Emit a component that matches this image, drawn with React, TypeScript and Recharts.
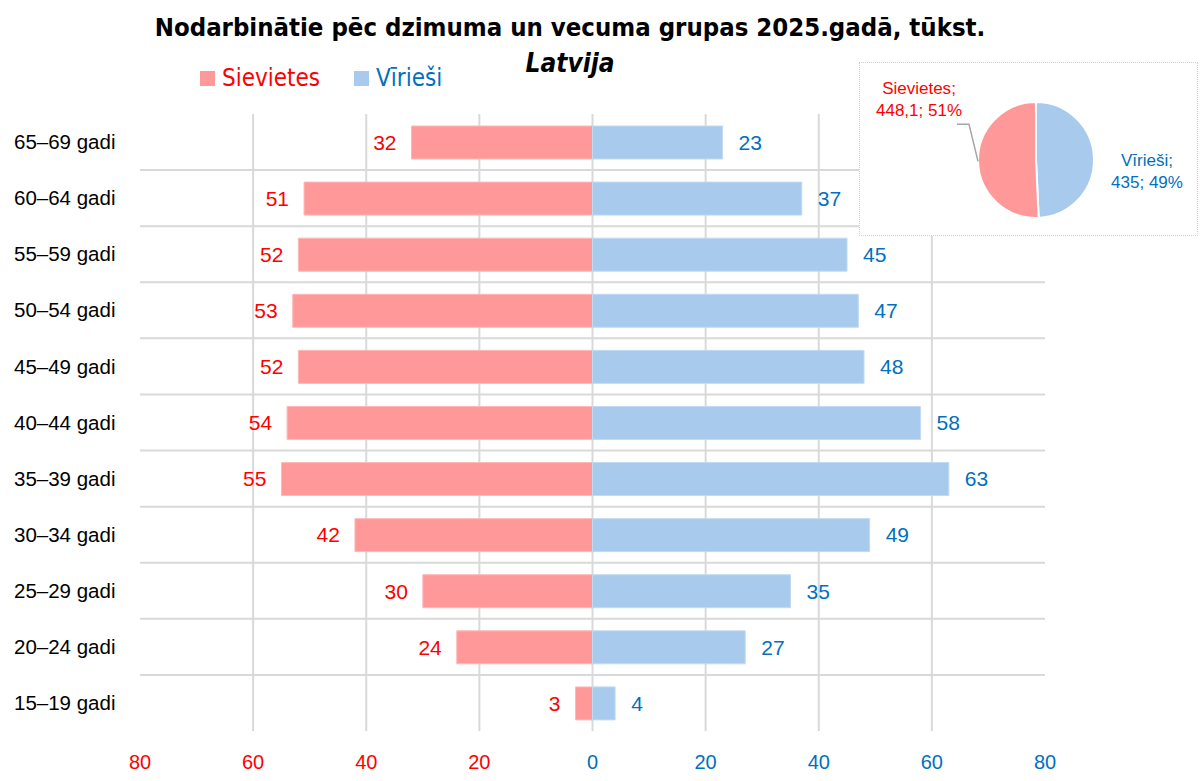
import {
  BarChart, Bar, XAxis, YAxis, CartesianGrid, LabelList, PieChart, Pie, Cell,
} from "recharts";

// employed persons by sex and age group, thousands
const ageGroups = [
  "65–69 gadi", "60–64 gadi", "55–59 gadi", "50–54 gadi", "45–49 gadi", "40–44 gadi",
  "35–39 gadi", "30–34 gadi", "25–29 gadi", "20–24 gadi", "15–19 gadi",
];
const women = [32, 51, 52, 53, 52, 54, 55, 42, 30, 24, 3];
const men = [23, 37, 45, 47, 48, 58, 63, 49, 35, 27, 4];

const xDomain: [number, number] = [-80, 80];
const xTicks = [-80, -60, -40, -20, 0, 20, 40, 60, 80];
const gridTicks = [-60, -40, -20, 0, 20, 40, 60];

const totalWomen = 448.1;
const totalMen = 435;

const RED = "#FF0000";
const BLUE = "#0070C0";
const PINK = "#FF9999";
const SKY = "#A8CAEC";
const FONT = "'Liberation Sans', Arial, sans-serif";
const NARROW = "'Liberation Sans Narrow', 'DejaVu Sans Condensed', 'Liberation Sans', sans-serif";

const rows = ageGroups.map((group, i) => ({ group, women: -women[i], men: men[i] }));
const totals = [
  { name: "Vīrieši", value: totalMen, color: SKY, text: BLUE },
  { name: "Sievietes", value: totalWomen, color: PINK, text: RED },
];

// vertical lines at the inner ticks only, horizontal lines between the age bands
const verticalLines = ({ offset }: any) =>
  gridTicks.map((v) => offset.left + ((v - xDomain[0]) / (xDomain[1] - xDomain[0])) * offset.width);
const horizontalLines = ({ offset }: any) =>
  ageGroups.slice(1).map((_, i) => offset.top + ((i + 1) * offset.height) / ageGroups.length);

function XTick({ x, y, payload }: any) {
  const v = payload.value as number;
  return (
    <text x={x} y={y} dy={30} textAnchor="middle" fill={v < 0 ? RED : BLUE} fontSize={20} fontFamily={FONT}>
      {Math.abs(v)}
    </text>
  );
}

function YTick({ y, payload }: any) {
  return (
    <text x={14} y={y} dy="0.35em" textAnchor="start" fill="#000" fontSize={20.5} fontFamily={FONT}>
      {payload.value}
    </text>
  );
}

function WomenLabel({ x, y, width, height, value }: any) {
  const left = Math.min(x, x + width);
  return (
    <text x={left - 15} y={y + height / 2} dy="0.35em" textAnchor="end" fill={RED} fontSize={21} fontFamily={FONT}>
      {Math.abs(Number(value))}
    </text>
  );
}

function MenLabel({ x, y, width, height, value }: any) {
  const right = Math.max(x, x + width);
  return (
    <text x={right + 16} y={y + height / 2} dy="0.35em" textAnchor="start" fill={BLUE} fontSize={21} fontFamily={FONT}>
      {value}
    </text>
  );
}

function fmt(v: number) {
  return String(v).replace(".", ",");
}

function PieLabel({ cx, cy, midAngle, outerRadius, name, value, percent, index }: any) {
  const item = totals[index];
  const pct = Math.round(percent * 100) + "%";
  if (name === "Vīrieši") {
    const lx = cx + outerRadius + 53;
    return (
      <text x={lx} y={cy + 6} textAnchor="middle" fill={item.text} fontSize={17} fontFamily={FONT}>
        <tspan x={lx} dy={0}>{name};</tspan>
        <tspan x={lx} dy={22}>{fmt(value)}; {pct}</tspan>
      </text>
    );
  }
  const rad = (-midAngle * Math.PI) / 180;
  const ex = cx + outerRadius * Math.cos(rad);
  const ey = cy + outerRadius * Math.sin(rad);
  const lx = cx - 117;
  return (
    <g>
      <polyline
        points={`${ex},${ey} ${ex - 9},${ey - 37} ${ex - 21},${ey - 37}`}
        fill="none" stroke="#A6A6A6" strokeWidth={1.5}
      />
      <text x={lx} y={cy - 66} textAnchor="middle" fill={item.text} fontSize={17} fontFamily={FONT}>
        <tspan x={lx} dy={0}>{name};</tspan>
        <tspan x={lx} dy={22}>{fmt(value)}; {pct}</tspan>
      </text>
    </g>
  );
}

function LegendKey({ color, textColor, label }: { color: string; textColor: string; label: string }) {
  return (
    <span style={{ display: "inline-flex", alignItems: "center", marginRight: 34 }}>
      <span style={{ width: 15, height: 15, background: color, marginRight: 7 }} />
      <span style={{ color: textColor, fontSize: 24, fontFamily: NARROW }}>{label}</span>
    </span>
  );
}

export default function App() {
  return (
    <div style={{ position: "absolute", left: 0, top: 0, width: 1200, height: 781, background: "#fff", overflow: "hidden" }}>
      <BarChart
        width={1200}
        height={781}
        data={rows}
        layout="vertical"
        stackOffset="sign"
        barSize={33}
        margin={{ top: 114, right: 155, bottom: 0, left: 14 }}
      >
        <CartesianGrid
          stroke="#D9D9D9"
          strokeWidth={2}
          verticalCoordinatesGenerator={verticalLines}
          horizontalCoordinatesGenerator={horizontalLines}
        />
        <XAxis
          type="number"
          domain={xDomain}
          ticks={xTicks}
          interval={0}
          axisLine={false}
          tickLine={false}
          height={50}
          tick={<XTick />}
        />
        <YAxis
          type="category"
          dataKey="group"
          width={126}
          axisLine={false}
          tickLine={false}
          interval={0}
          tick={<YTick />}
        />
        <Bar dataKey="women" stackId="s" fill={PINK} stroke="#FFB8B8" isAnimationActive={false}>
          <LabelList dataKey="women" content={<WomenLabel />} />
        </Bar>
        <Bar dataKey="men" stackId="s" fill={SKY} stroke="#C2DAF2" isAnimationActive={false}>
          <LabelList dataKey="men" content={<MenLabel />} />
        </Bar>
      </BarChart>

      <div style={{
        position: "absolute", left: 0, top: 9, width: 1140, textAlign: "center",
        fontFamily: NARROW, fontWeight: 700, fontSize: 25.5, lineHeight: "36px", color: "#000",
      }}>
        <div>Nodarbinātie pēc dzimuma un vecuma grupas 2025.gadā, tūkst.</div>
        <div style={{ fontStyle: "italic", fontSize: 26 }}>Latvija</div>
      </div>

      <div style={{ position: "absolute", left: 200, top: 64, display: "flex" }}>
        <LegendKey color={PINK} textColor={RED} label="Sievietes" />
        <LegendKey color={SKY} textColor={BLUE} label="Vīrieši" />
      </div>

      <div style={{
        position: "absolute", left: 859, top: 62, width: 337, height: 172,
        border: "1px dotted #D0D0D0", background: "#fff",
      }}>
        <PieChart width={337} height={172} margin={{ top: 0, right: 0, bottom: 0, left: 0 }}>
          <Pie
            data={totals}
            dataKey="value"
            nameKey="name"
            cx={176}
            cy={97}
            outerRadius={58}
            startAngle={90}
            endAngle={-270}
            stroke="#fff"
            strokeWidth={2}
            labelLine={false}
            label={PieLabel}
            isAnimationActive={false}
          >
            {totals.map((t) => <Cell key={t.name} fill={t.color} />)}
          </Pie>
        </PieChart>
      </div>
    </div>
  );
}
